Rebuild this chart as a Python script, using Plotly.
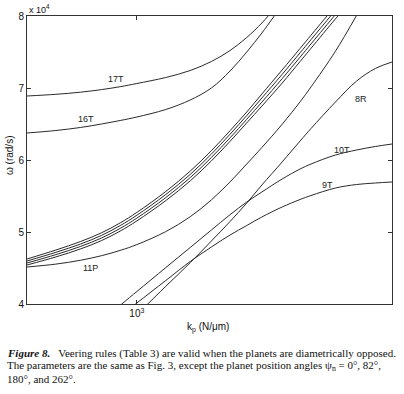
import math
import plotly.graph_objects as go

# ---- data (k in N/um, omega in rad/s) ----
k_17T = [500, 600, 700, 800, 900, 1000, 1200, 1400, 1600, 1800, 2000, 2200, 2300]
w_17T = [68889, 69125, 69417, 69778, 70181, 70625, 71458, 72431, 73681, 75208, 77014, 79028, 80139]

k_16T = [500, 600, 700, 800, 900, 1000, 1200, 1400, 1600, 1800, 2000, 2200, 2400]
w_16T = [63750, 64097, 64514, 65000, 65486, 65972, 67014, 68333, 70000, 72361, 75000, 77639, 80278]

k_bundle = [500, 600, 700, 800, 900, 1000, 1200, 1400, 1600, 1800, 2000, 2200, 2500, 2800, 3000, 3500]
w_b1 = [46250, 47500, 48667, 49889, 51264, 52722, 55625, 58458, 61292, 64069, 66667, 69167, 72500, 75500, 77333, 81417]
w_b2 = [45972, 47181, 48319, 49528, 50889, 52333, 55208, 58000, 60819, 63583, 66167, 68611, 71889, 74889, 76722, 80806]
w_b3 = [45694, 46861, 47986, 49167, 50500, 51931, 54778, 57556, 60347, 63083, 65653, 68042, 71292, 74292, 76125, 80208]
k_b4 = [500, 600, 700, 800, 900, 1000, 1200, 1400, 1600, 1800, 2000, 2200, 2500, 2800, 3000, 3500, 3700]
w_b4 = [45417, 46542, 47639, 48806, 50125, 51542, 54361, 57097, 59875, 62597, 65153, 67486, 70681, 73681, 75514, 79597, 80986]

k_11P = [500, 600, 700, 800, 900, 1000, 1200, 1400, 1600, 1800, 2000, 2200, 2500, 2800, 3000, 3500, 4000]
w_11P = [45139, 45542, 46069, 46708, 47444, 48250, 50056, 52125, 54458, 56958, 59444, 61736, 64958, 68083, 70153, 75111, 80097]

k_10T = [900, 1000, 1200, 1400, 1600, 1800, 2000, 2200, 2500, 2800, 3000, 3500, 4000, 4500, 5000]
w_10T = [39819, 41736, 45056, 47847, 50278, 52403, 54167, 55556, 57361, 58750, 59444, 60694, 61389, 61875, 62222]

k_9T = [900, 1000, 1200, 1400, 1600, 1800, 2000, 2200, 2500, 2800, 3000, 3500, 4000, 4500, 5000]
w_9T = [38333, 40139, 43264, 45903, 47917, 49583, 50903, 52083, 53472, 54514, 55069, 56111, 56597, 56806, 56944]

k_8R = [1000, 1200, 1400, 1600, 1800, 2000, 2200, 2500, 2800, 3000, 3500, 4000, 4500, 5000]
w_8R = [38500, 42458, 45736, 48750, 51458, 54028, 56528, 59722, 62639, 64375, 68056, 70972, 72708, 73611]

y_ticks = [40000, 50000, 60000, 70000, 80000]
y_tick_labels = ["4", "5", "6", "7", "8"]
x_ticks = [1000]
x_tick_labels = ["10<sup>3</sup>"]

labels = [("17T", 877, 71250), ("16T", 725, 65700), ("11P", 744, 45000),
          ("8R", 4113, 68470), ("10T", 3648, 61390), ("9T", 3319, 56530)]

curves = [(k_17T, w_17T), (k_16T, w_16T), (k_bundle, w_b1), (k_bundle, w_b2),
          (k_bundle, w_b3), (k_b4, w_b4), (k_11P, w_11P), (k_10T, w_10T),
          (k_9T, w_9T), (k_8R, w_8R)]

fig = go.Figure()
for kx, wy in curves:
    fig.add_trace(go.Scatter(x=kx, y=wy, mode="lines",
                             line=dict(color="#2a2a2a", width=1, shape="spline", smoothing=1.0),
                             showlegend=False, hoverinfo="skip"))

for txt, kx, wy in labels:
    fig.add_annotation(x=math.log10(kx), y=wy, text=txt, showarrow=False,
                       xanchor="center", yanchor="middle",
                       font=dict(family="Liberation Sans, Arial", size=9, color="#222"))

axis_font = dict(family="Liberation Sans, Arial", size=10, color="#111")
fig.update_xaxes(type="log", range=[math.log10(500), math.log10(5000)],
                 tickvals=x_ticks, ticktext=x_tick_labels, ticks="inside", ticklen=4,
                 showline=True, linecolor="#333", linewidth=1, mirror="ticks",
                 showgrid=False, zeroline=False, tickfont=axis_font, tickcolor="#333",
                 automargin=False)
fig.update_yaxes(range=[40000, 80000], tickvals=y_ticks, ticktext=y_tick_labels,
                 ticks="inside", ticklen=4, showline=True, linecolor="#333", linewidth=1,
                 mirror="ticks", showgrid=False, zeroline=False, tickfont=axis_font,
                 tickcolor="#333", automargin=False)

# axis titles and exponent marker
fig.add_annotation(xref="paper", yref="paper", x=(208 - 27) / 365, y=(304 - 327) / 288,
                   xanchor="center", yanchor="middle",
                   text="k<sub>p</sub> (N/μm)", showarrow=False, font=axis_font)
fig.add_annotation(xref="paper", yref="paper", x=(9 - 27) / 365, y=(304 - 156) / 288,
                   xanchor="center", yanchor="middle",
                   text="ω (rad/s)", textangle=-90, showarrow=False, font=axis_font)
fig.add_annotation(xref="paper", yref="paper", x=(27 - 27) / 365, y=(304 - 9) / 288,
                   xanchor="left", yanchor="middle", text="x 10<sup>4</sup>", showarrow=False,
                   font=dict(family="Liberation Sans, Arial", size=9, color="#111"))

cap_font = dict(family="Liberation Serif, Times New Roman", size=11, color="#111")
caption = [
    "<b><i>Figure 8.</i></b>   Veering rules (Table 3) are valid when the planets are diametrically opposed.",
    "The parameters are the same as Fig. 3, except the planet position angles ψ<sub>n</sub> = 0°, 82°,",
    "180°, and 262°.",
]
for i, line in enumerate(caption):
    fig.add_annotation(xref="paper", yref="paper", x=(5 - 27) / 365,
                       y=(304 - (353 + 13 * i)) / 288, xanchor="left", yanchor="middle",
                       text=line, showarrow=False, font=cap_font)

fig.update_layout(width=404, height=394, margin=dict(l=27, r=12, t=16, b=90),
                  paper_bgcolor="white", plot_bgcolor="white")
fig.write_html("out.html", config={"displayModeBar": False},
               post_script="document.body.style.margin='0';document.body.style.padding='0';")
